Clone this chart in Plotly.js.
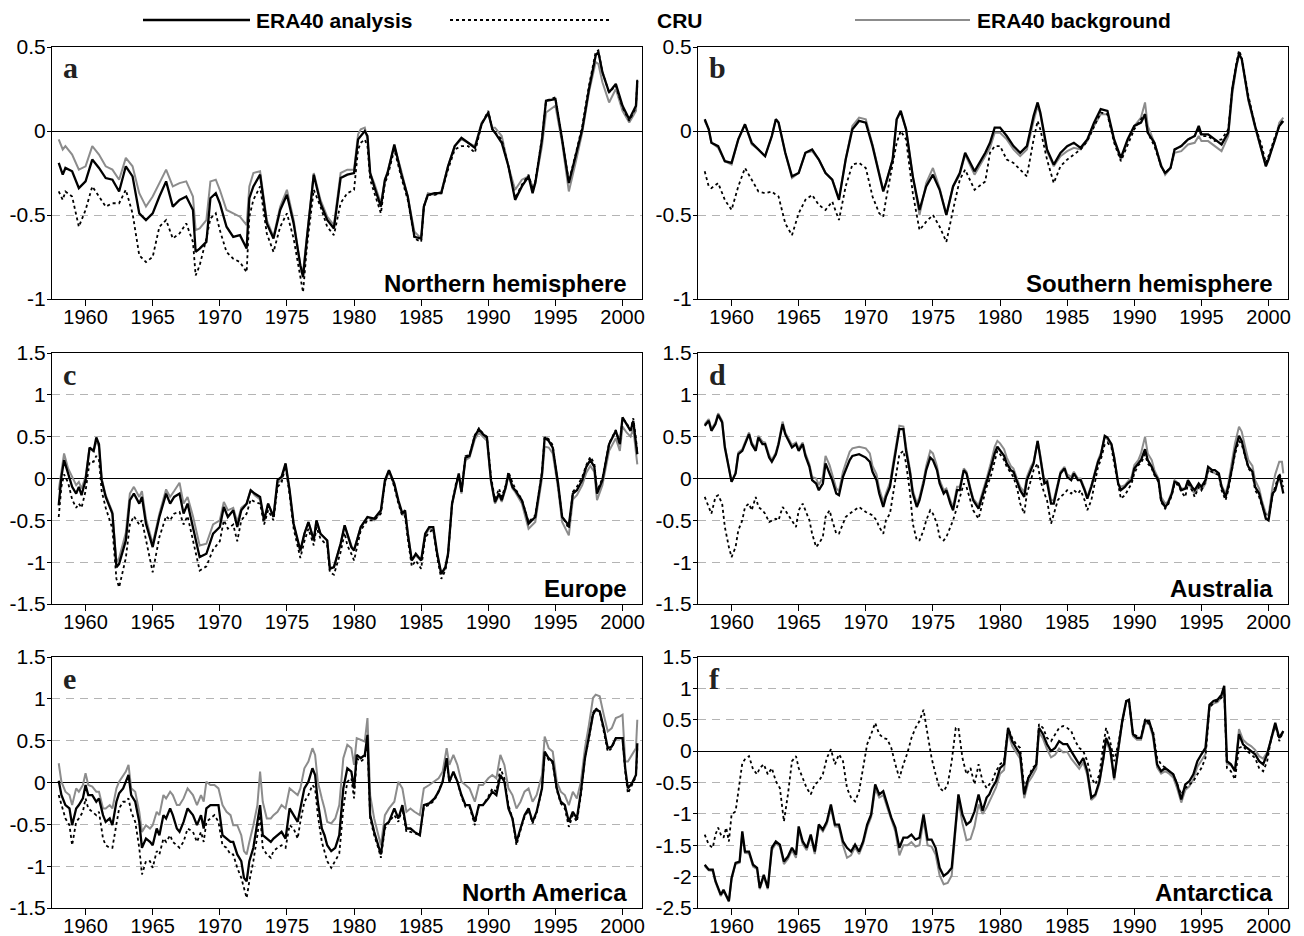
<!DOCTYPE html>
<html><head><meta charset="utf-8">
<script src="https://cdn.plot.ly/plotly-3.0.1.min.js"></script>
<style>html,body{margin:0;padding:0;background:#fff;}#chart{width:1304px;height:936px;}</style>
</head><body><div id="chart"></div>
<script>
// ---------- Panel a: Northern hemisphere ----------
const A_years=[1958.0,1958.3,1958.5,1959.0,1959.5,1960.0,1960.5,1961.0,1961.5,1962.0,
1962.5,1963.0,1963.5,1964.0,1964.5,1965.0,1965.5,1966.0,1966.5,1967.0,
1967.5,1968.0,1968.2,1968.5,1969.0,1969.3,1969.7,1970.0,1970.5,1971.0,
1971.5,1972.0,1972.2,1972.5,1973.0,1973.5,1974.0,1974.5,1975.0,1975.5,
1976.0,1976.2,1976.5,1977.0,1977.5,1978.0,1978.5,1979.0,1979.5,1980.0,
1980.3,1980.5,1980.8,1981.0,1981.2,1981.5,1982.0,1982.3,1982.5,1983.0,
1983.5,1984.0,1984.5,1985.0,1985.2,1985.5,1986.0,1986.5,1987.0,1987.5,
1988.0,1988.5,1989.0,1989.5,1990.0,1990.3,1990.5,1991.0,1991.5,1992.0,
1992.5,1993.0,1993.3,1993.5,1994.0,1994.3,1995.0,1995.5,1996.0,1996.5,
1997.0,1997.5,1998.0,1998.2,1998.5,1999.0,1999.5,2000.0,2000.5,2001.0,
2001.1];
const A_analysis=[-0.19,-0.26,-0.22,-0.24,-0.34,-0.30,-0.17,-0.22,-0.28,-0.29,
-0.36,-0.21,-0.27,-0.49,-0.53,-0.49,-0.39,-0.30,-0.45,-0.41,
-0.39,-0.47,-0.72,-0.70,-0.66,-0.40,-0.37,-0.43,-0.57,-0.63,
-0.62,-0.70,-0.40,-0.33,-0.26,-0.55,-0.64,-0.47,-0.38,-0.55,
-0.80,-0.87,-0.63,-0.26,-0.43,-0.53,-0.58,-0.28,-0.26,-0.25,
-0.05,-0.03,0.00,-0.03,-0.25,-0.33,-0.45,-0.29,-0.25,-0.08,
-0.25,-0.39,-0.63,-0.64,-0.45,-0.38,-0.37,-0.37,-0.21,-0.09,
-0.04,-0.07,-0.10,0.04,0.11,0.01,-0.01,-0.07,-0.21,-0.41,
-0.33,-0.27,-0.37,-0.31,-0.05,0.18,0.19,-0.05,-0.31,-0.15,
0.01,0.25,0.45,0.47,0.35,0.23,0.28,0.15,0.07,0.15,
0.30];
const A_background=[-0.05,-0.11,-0.09,-0.14,-0.23,-0.21,-0.09,-0.14,-0.21,-0.23,
-0.29,-0.16,-0.21,-0.37,-0.45,-0.39,-0.31,-0.23,-0.33,-0.31,
-0.30,-0.39,-0.59,-0.58,-0.53,-0.30,-0.29,-0.35,-0.47,-0.49,
-0.51,-0.56,-0.33,-0.25,-0.24,-0.53,-0.63,-0.45,-0.35,-0.53,
-0.80,-0.84,-0.61,-0.25,-0.41,-0.51,-0.56,-0.25,-0.23,-0.23,
-0.02,0.01,0.02,-0.05,-0.25,-0.31,-0.43,-0.29,-0.24,-0.09,
-0.23,-0.39,-0.60,-0.64,-0.45,-0.37,-0.38,-0.36,-0.21,-0.09,
-0.05,-0.07,-0.09,0.05,0.10,0.02,0.02,-0.03,-0.21,-0.35,
-0.29,-0.27,-0.33,-0.31,-0.09,0.11,0.15,-0.07,-0.36,-0.19,
-0.01,0.23,0.41,0.40,0.29,0.17,0.25,0.12,0.05,0.12,
0.27];
const A_cru=[-0.36,-0.41,-0.36,-0.39,-0.57,-0.47,-0.33,-0.39,-0.45,-0.43,
-0.43,-0.35,-0.49,-0.74,-0.78,-0.75,-0.57,-0.53,-0.64,-0.61,
-0.55,-0.66,-0.86,-0.80,-0.64,-0.52,-0.49,-0.59,-0.72,-0.76,
-0.78,-0.84,-0.51,-0.41,-0.33,-0.61,-0.72,-0.57,-0.49,-0.64,
-0.88,-0.96,-0.68,-0.35,-0.45,-0.57,-0.62,-0.43,-0.37,-0.35,
-0.11,-0.07,-0.05,-0.09,-0.29,-0.37,-0.49,-0.31,-0.27,-0.11,
-0.27,-0.41,-0.64,-0.66,-0.45,-0.38,-0.38,-0.37,-0.23,-0.11,
-0.09,-0.09,-0.13,0.04,0.12,0.01,-0.01,-0.05,-0.21,-0.40,
-0.32,-0.26,-0.35,-0.30,-0.04,0.18,0.20,-0.05,-0.30,-0.14,
0.03,0.27,0.47,0.48,0.35,0.23,0.27,0.14,0.06,0.14,
0.31];

// ---------- Panel b: Southern hemisphere ----------
const B_years=[1958.0,1958.3,1958.5,1959.0,1959.5,1960.0,1960.5,1961.0,1961.5,1962.0,
1962.5,1963.0,1963.3,1963.5,1964.0,1964.5,1965.0,1965.5,1966.0,1966.5,
1967.0,1967.5,1968.0,1968.5,1969.0,1969.5,1970.0,1970.5,1971.0,1971.3,
1971.5,1972.0,1972.3,1972.6,1973.0,1973.5,1974.0,1974.5,1975.0,1975.5,
1976.0,1976.5,1977.0,1977.4,1978.1,1978.9,1979.25,1979.6,1980.0,1980.5,
1981.0,1981.5,1982.0,1982.5,1982.8,1983.0,1983.5,1984.0,1984.5,1985.0,
1985.5,1986.0,1986.5,1987.0,1987.5,1988.0,1988.5,1989.0,1989.5,1990.0,
1990.5,1990.8,1991.0,1991.5,1992.0,1992.3,1992.7,1993.0,1993.5,1994.0,
1994.5,1994.8,1995.0,1995.5,1996.0,1996.5,1997.0,1997.3,1997.6,1997.8,
1998.0,1998.5,1999.0,1999.5,1999.8,2000.0,2000.5,2000.8,2001.1];
const B_analysis=[0.07,0.01,-0.07,-0.09,-0.18,-0.19,-0.05,0.04,-0.07,-0.11,
-0.15,-0.03,0.07,0.05,-0.13,-0.27,-0.25,-0.13,-0.11,-0.17,
-0.25,-0.29,-0.41,-0.17,0.01,0.06,0.05,-0.09,-0.25,-0.36,
-0.31,-0.17,0.07,0.12,0.01,-0.27,-0.47,-0.33,-0.26,-0.35,
-0.50,-0.33,-0.25,-0.13,-0.24,-0.13,-0.07,0.02,0.02,-0.03,
-0.09,-0.13,-0.09,0.09,0.17,0.11,-0.11,-0.20,-0.13,-0.09,
-0.07,-0.10,-0.05,0.05,0.13,0.12,-0.05,-0.16,-0.05,0.03,
0.05,0.10,-0.01,-0.07,-0.21,-0.25,-0.22,-0.11,-0.09,-0.05,
-0.03,0.03,-0.02,-0.02,-0.05,-0.08,-0.01,0.25,0.39,0.46,
0.43,0.19,0.03,-0.11,-0.21,-0.17,-0.05,0.03,0.06];
const B_background=[0.06,0.01,-0.07,-0.10,-0.18,-0.20,-0.05,0.04,-0.08,-0.11,
-0.15,-0.03,0.07,0.05,-0.13,-0.28,-0.25,-0.13,-0.12,-0.17,
-0.25,-0.29,-0.40,-0.17,0.03,0.08,0.07,-0.08,-0.25,-0.35,
-0.31,-0.17,0.07,0.11,0.01,-0.27,-0.50,-0.31,-0.22,-0.34,
-0.50,-0.33,-0.26,-0.14,-0.26,-0.15,-0.10,-0.01,-0.01,-0.05,
-0.11,-0.15,-0.11,0.06,0.15,0.10,-0.12,-0.21,-0.15,-0.12,
-0.10,-0.11,-0.06,0.03,0.10,0.10,-0.06,-0.17,-0.06,0.03,
0.08,0.17,0.03,-0.07,-0.20,-0.26,-0.22,-0.13,-0.12,-0.08,
-0.07,-0.03,-0.06,-0.06,-0.09,-0.12,-0.03,0.22,0.38,0.45,
0.43,0.18,0.02,-0.12,-0.21,-0.16,-0.05,0.05,0.08];
const B_cru=[-0.24,-0.33,-0.34,-0.31,-0.41,-0.47,-0.33,-0.22,-0.29,-0.36,
-0.37,-0.36,-0.38,-0.39,-0.55,-0.62,-0.49,-0.41,-0.38,-0.44,
-0.47,-0.42,-0.53,-0.33,-0.20,-0.19,-0.22,-0.39,-0.49,-0.51,
-0.41,-0.21,-0.07,0.00,-0.05,-0.37,-0.59,-0.54,-0.50,-0.57,
-0.66,-0.47,-0.29,-0.23,-0.35,-0.30,-0.13,-0.09,-0.09,-0.17,
-0.19,-0.23,-0.27,-0.05,0.06,0.01,-0.17,-0.31,-0.21,-0.17,
-0.14,-0.11,-0.06,0.03,0.11,0.10,-0.07,-0.18,-0.09,0.01,
0.07,0.10,-0.01,-0.09,-0.21,-0.25,-0.22,-0.11,-0.09,-0.05,
-0.03,0.01,-0.03,-0.03,-0.06,-0.05,0.01,0.25,0.40,0.48,
0.44,0.21,0.03,-0.09,-0.19,-0.15,-0.03,0.03,0.07];

// ---------- Panel c: Europe ----------
const C_years=[1958.0,1958.2,1958.4,1958.7,1959.0,1959.3,1959.5,1959.7,1960.0,1960.3,
1960.6,1960.8,1961.0,1961.2,1961.5,1962.0,1962.3,1962.5,1963.0,1963.3,
1963.6,1964.0,1964.2,1964.5,1965.0,1965.5,1966.0,1966.3,1966.6,1967.0,
1967.3,1967.6,1968.0,1968.5,1969.0,1969.5,1970.0,1970.3,1970.6,1971.0,
1971.3,1971.6,1972.0,1972.3,1972.6,1973.0,1973.3,1973.6,1974.0,1974.3,
1974.6,1974.9,1975.2,1975.5,1976.0,1976.3,1976.6,1977.0,1977.2,1977.5,
1978.0,1978.2,1978.5,1979.0,1979.3,1979.5,1979.8,1980.0,1980.5,1981.0,
1981.5,1982.0,1982.3,1982.6,1983.0,1983.3,1983.6,1983.8,1984.0,1984.3,
1984.6,1985.0,1985.3,1985.6,1985.9,1986.2,1986.5,1986.8,1987.0,1987.3,
1987.6,1987.8,1988.0,1988.3,1988.6,1989.0,1989.3,1989.6,1989.9,1990.2,
1990.5,1990.8,1991.0,1991.3,1991.5,1991.8,1992.0,1992.5,1992.8,1993.0,
1993.5,1994.0,1994.2,1994.5,1994.8,1995.2,1995.5,1996.0,1996.3,1996.6,
1997.0,1997.3,1997.6,1997.9,1998.1,1998.5,1999.0,1999.5,1999.8,2000.0,
2000.3,2000.6,2000.8,2001.0,2001.1];
const C_analysis=[-0.32,0.02,0.22,0.06,-0.10,-0.18,-0.10,-0.20,-0.02,0.37,
0.33,0.49,0.41,-0.02,-0.22,-0.42,-1.06,-1.02,-0.74,-0.26,
-0.18,-0.30,-0.22,-0.54,-0.82,-0.46,-0.18,-0.30,-0.22,-0.18,
-0.42,-0.30,-0.58,-0.94,-0.90,-0.66,-0.58,-0.34,-0.46,-0.38,
-0.58,-0.38,-0.30,-0.14,-0.18,-0.22,-0.50,-0.30,-0.46,-0.02,
0.02,0.18,-0.14,-0.54,-0.86,-0.66,-0.52,-0.74,-0.50,-0.66,
-0.74,-1.08,-1.06,-0.78,-0.56,-0.66,-0.82,-0.86,-0.58,-0.46,
-0.48,-0.38,-0.02,0.10,-0.06,-0.26,-0.42,-0.38,-0.66,-0.98,
-0.90,-0.98,-0.66,-0.58,-0.58,-0.90,-1.14,-1.06,-0.90,-0.30,
-0.06,0.06,-0.16,0.25,0.27,0.51,0.59,0.53,0.49,-0.02,
-0.28,-0.18,-0.26,-0.10,0.06,-0.10,-0.14,-0.26,-0.42,-0.54,
-0.46,0.06,0.49,0.45,0.37,-0.06,-0.46,-0.56,-0.18,-0.14,
-0.02,0.14,0.22,0.14,-0.18,-0.02,0.41,0.57,0.41,0.73,
0.65,0.57,0.69,0.45,0.29];
const C_background=[-0.14,0.08,0.30,0.12,0.02,-0.08,-0.04,-0.12,0.02,0.37,
0.32,0.45,0.38,0.00,-0.20,-0.40,-1.00,-0.95,-0.65,-0.18,
-0.10,-0.22,-0.15,-0.48,-0.78,-0.42,-0.13,-0.22,-0.15,-0.05,
-0.30,-0.22,-0.45,-0.80,-0.78,-0.55,-0.50,-0.28,-0.38,-0.35,
-0.52,-0.35,-0.30,-0.14,-0.20,-0.25,-0.50,-0.30,-0.45,-0.05,
-0.02,0.17,-0.15,-0.55,-0.88,-0.66,-0.52,-0.72,-0.50,-0.66,
-0.74,-1.06,-1.06,-0.78,-0.56,-0.66,-0.80,-0.85,-0.58,-0.46,
-0.50,-0.40,-0.05,0.08,-0.08,-0.28,-0.44,-0.40,-0.66,-0.98,
-0.92,-0.98,-0.68,-0.60,-0.62,-0.92,-1.14,-1.08,-0.92,-0.32,
-0.08,0.04,-0.18,0.22,0.25,0.47,0.55,0.50,0.45,-0.04,
-0.30,-0.20,-0.28,-0.12,0.04,-0.12,-0.16,-0.30,-0.48,-0.60,
-0.52,0.00,0.38,0.37,0.30,-0.12,-0.52,-0.68,-0.25,-0.20,
-0.08,0.07,0.15,0.08,-0.26,-0.08,0.33,0.48,0.33,0.62,
0.55,0.50,0.60,0.35,0.17];
const C_cru=[-0.46,-0.10,0.05,-0.05,-0.25,-0.35,-0.30,-0.35,-0.15,0.20,
0.20,0.27,0.22,-0.15,-0.35,-0.60,-1.20,-1.30,-0.95,-0.55,
-0.45,-0.55,-0.50,-0.75,-1.12,-0.70,-0.45,-0.50,-0.42,-0.40,
-0.55,-0.45,-0.75,-1.10,-1.05,-0.85,-0.75,-0.50,-0.60,-0.55,
-0.75,-0.50,-0.42,-0.25,-0.28,-0.30,-0.55,-0.38,-0.50,-0.10,
-0.05,0.15,-0.20,-0.60,-0.95,-0.75,-0.60,-0.80,-0.58,-0.72,
-0.80,-1.12,-1.15,-0.88,-0.65,-0.80,-0.90,-0.98,-0.62,-0.50,
-0.50,-0.42,-0.05,0.10,-0.10,-0.30,-0.45,-0.45,-0.72,-1.05,
-0.98,-1.08,-0.70,-0.65,-0.60,-0.95,-1.20,-1.10,-0.92,-0.30,
-0.05,0.05,-0.16,0.27,0.28,0.52,0.60,0.54,0.50,0.02,
-0.25,-0.12,-0.22,-0.08,0.08,-0.05,-0.12,-0.25,-0.40,-0.52,
-0.44,0.08,0.50,0.47,0.40,-0.05,-0.45,-0.60,-0.16,-0.10,
0.02,0.16,0.26,0.18,-0.15,0.00,0.42,0.58,0.42,0.72,
0.66,0.58,0.72,0.48,0.30];

// ---------- Panel d: Australia ----------
const D_years=[1958.0,1958.3,1958.5,1958.8,1959.0,1959.3,1959.5,1959.8,1960.0,1960.3,
1960.5,1960.8,1961.0,1961.3,1961.5,1961.8,1962.0,1962.3,1962.5,1962.8,
1963.0,1963.3,1963.5,1963.8,1964.0,1964.3,1964.5,1964.8,1965.0,1965.3,
1965.5,1965.8,1966.0,1966.3,1966.5,1966.8,1967.0,1967.3,1967.5,1967.8,
1968.0,1968.3,1968.5,1968.8,1969.0,1969.5,1970.0,1970.3,1970.5,1970.8,
1971.0,1971.3,1971.5,1971.8,1972.0,1972.3,1972.5,1972.8,1973.0,1973.3,
1973.5,1973.8,1974.0,1974.3,1974.5,1974.8,1975.0,1975.3,1975.5,1975.8,
1976.0,1976.3,1976.5,1976.8,1977.0,1977.3,1977.5,1977.8,1978.0,1978.4,
1978.8,1979.0,1979.3,1979.6,1979.8,1980.0,1980.3,1980.5,1980.8,1981.0,
1981.3,1981.5,1981.8,1982.0,1982.3,1982.5,1982.8,1983.0,1983.3,1983.5,
1983.8,1984.0,1984.3,1984.5,1984.8,1985.0,1985.3,1985.5,1985.8,1986.0,
1986.3,1986.5,1986.8,1987.0,1987.3,1987.5,1987.8,1988.0,1988.3,1988.5,
1988.8,1989.0,1989.3,1989.5,1989.8,1990.0,1990.3,1990.5,1990.8,1991.0,
1991.3,1991.5,1991.8,1992.0,1992.3,1992.5,1992.8,1993.0,1993.3,1993.5,
1993.8,1994.0,1994.3,1994.5,1994.8,1995.0,1995.3,1995.5,1995.8,1996.0,
1996.3,1996.5,1996.8,1997.0,1997.3,1997.5,1997.8,1998.0,1998.3,1998.5,
1998.8,1999.0,1999.3,1999.5,1999.8,2000.0,2000.3,2000.5,2000.8,2001.0,
2001.1];
const D_analysis=[0.63,0.69,0.57,0.65,0.76,0.67,0.37,0.10,-0.04,0.06,
0.29,0.33,0.41,0.53,0.41,0.33,0.49,0.41,0.41,0.25,
0.20,0.29,0.41,0.65,0.53,0.43,0.37,0.41,0.33,0.41,
0.27,0.14,-0.02,-0.06,-0.14,-0.06,0.18,0.06,-0.02,-0.18,
-0.20,0.02,0.10,0.22,0.27,0.29,0.25,0.20,0.08,-0.02,
-0.18,-0.34,-0.22,-0.10,0.10,0.37,0.59,0.59,0.33,0.06,
-0.18,-0.34,-0.26,-0.06,0.10,0.25,0.22,0.10,-0.06,-0.18,
-0.14,-0.30,-0.38,-0.14,-0.14,0.10,0.06,-0.14,-0.26,-0.36,
-0.16,-0.04,0.12,0.30,0.38,0.33,0.27,0.18,0.10,0.08,
-0.06,-0.14,-0.22,-0.02,0.10,0.18,0.45,0.25,-0.06,-0.04,
-0.30,-0.30,-0.10,0.06,0.12,0.02,-0.02,0.06,-0.02,-0.02,
-0.14,-0.24,-0.10,0.02,0.20,0.27,0.51,0.49,0.41,0.25,
-0.06,-0.14,-0.10,-0.06,-0.02,0.12,0.18,0.22,0.35,0.22,
0.14,0.06,-0.02,-0.26,-0.34,-0.30,-0.18,-0.04,-0.06,-0.14,
-0.12,-0.02,-0.10,-0.14,-0.06,-0.10,-0.02,0.14,0.10,0.10,
0.06,-0.10,-0.22,-0.10,0.14,0.33,0.51,0.45,0.25,0.14,
0.08,-0.10,-0.18,-0.30,-0.48,-0.50,-0.18,-0.14,0.04,-0.10,
-0.18];
const D_background=[0.65,0.71,0.59,0.67,0.78,0.69,0.39,0.10,-0.04,0.07,
0.31,0.35,0.44,0.55,0.43,0.36,0.51,0.44,0.43,0.28,
0.22,0.31,0.43,0.68,0.55,0.46,0.40,0.43,0.36,0.43,
0.30,0.17,0.02,0.00,-0.08,0.02,0.27,0.16,0.05,-0.12,
-0.15,0.08,0.18,0.32,0.36,0.38,0.36,0.30,0.15,0.05,
-0.12,-0.28,-0.18,-0.05,0.15,0.42,0.63,0.62,0.38,0.10,
-0.14,-0.30,-0.22,-0.02,0.15,0.33,0.30,0.15,-0.02,-0.14,
-0.12,-0.26,-0.34,-0.10,-0.10,0.12,0.08,-0.12,-0.24,-0.32,
-0.12,0.00,0.18,0.38,0.45,0.42,0.35,0.25,0.15,0.12,
-0.02,-0.10,-0.16,0.02,0.14,0.20,0.45,0.28,-0.04,0.00,
-0.26,-0.26,-0.06,0.08,0.14,0.05,0.02,0.08,0.00,0.00,
-0.12,-0.22,-0.08,0.04,0.22,0.30,0.50,0.47,0.40,0.26,
-0.06,-0.10,-0.08,-0.04,0.02,0.16,0.22,0.30,0.50,0.30,
0.22,0.10,0.00,-0.22,-0.30,-0.28,-0.16,-0.02,-0.06,-0.12,
-0.12,-0.04,-0.14,-0.18,-0.10,-0.14,-0.06,0.10,0.08,0.06,
0.04,-0.08,-0.18,-0.06,0.20,0.42,0.62,0.56,0.35,0.22,
0.15,-0.02,-0.12,-0.26,-0.42,-0.44,-0.10,0.05,0.20,0.20,
0.06];
const D_cru=[-0.22,-0.34,-0.42,-0.22,-0.20,-0.30,-0.58,-0.82,-0.94,-0.82,
-0.62,-0.50,-0.34,-0.30,-0.38,-0.22,-0.34,-0.38,-0.42,-0.52,
-0.50,-0.48,-0.50,-0.34,-0.38,-0.46,-0.50,-0.58,-0.38,-0.30,
-0.38,-0.50,-0.66,-0.82,-0.78,-0.70,-0.46,-0.38,-0.50,-0.66,
-0.66,-0.54,-0.46,-0.42,-0.40,-0.34,-0.40,-0.42,-0.44,-0.50,
-0.58,-0.66,-0.50,-0.42,-0.22,0.06,0.29,0.33,0.18,-0.18,
-0.54,-0.74,-0.74,-0.62,-0.50,-0.38,-0.42,-0.54,-0.70,-0.74,
-0.70,-0.58,-0.50,-0.34,-0.22,-0.06,-0.10,-0.26,-0.38,-0.48,
-0.22,-0.10,0.02,0.22,0.33,0.29,0.22,0.14,0.06,0.02,
-0.14,-0.30,-0.42,-0.18,-0.02,0.10,0.18,-0.02,-0.18,-0.26,
-0.54,-0.42,-0.26,-0.22,-0.18,-0.14,-0.18,-0.14,-0.18,-0.14,
-0.26,-0.38,-0.26,-0.10,0.14,0.22,0.41,0.43,0.37,0.18,
-0.10,-0.24,-0.20,-0.14,-0.06,0.06,0.16,0.18,0.29,0.18,
0.12,0.04,-0.04,-0.28,-0.36,-0.32,-0.20,-0.06,-0.08,-0.16,
-0.22,-0.06,-0.14,-0.22,-0.10,-0.14,-0.04,0.10,0.08,0.06,
0.04,-0.14,-0.26,-0.14,0.10,0.29,0.45,0.41,0.24,0.12,
0.06,-0.14,-0.22,-0.32,-0.44,-0.48,-0.20,-0.10,0.06,-0.02,
-0.10];

// ---------- Panel e: North America ----------
const E_years=[1958.0,1958.2,1958.5,1958.8,1959.0,1959.3,1959.5,1959.8,1960.0,1960.2,
1960.5,1960.8,1961.0,1961.3,1961.5,1961.8,1962.0,1962.3,1962.5,1962.8,
1963.0,1963.2,1963.4,1963.7,1964.0,1964.2,1964.5,1964.8,1965.0,1965.3,
1965.5,1965.8,1966.0,1966.3,1966.5,1966.8,1967.0,1967.3,1967.6,1968.0,
1968.3,1968.6,1968.8,1969.0,1969.3,1969.6,1969.9,1970.2,1970.5,1970.8,
1971.0,1971.3,1971.6,1971.8,1972.0,1972.2,1972.5,1972.8,1973.0,1973.2,
1973.5,1973.8,1974.0,1974.3,1974.6,1974.9,1975.2,1975.5,1975.8,1976.0,
1976.3,1976.6,1976.9,1977.1,1977.3,1977.6,1977.8,1978.0,1978.3,1978.6,
1978.9,1979.2,1979.5,1979.8,1980.0,1980.2,1980.5,1980.8,1981.0,1981.2,
1981.5,1981.8,1982.0,1982.3,1982.6,1983.0,1983.3,1983.6,1983.9,1984.2,
1984.5,1984.9,1985.2,1985.6,1986.0,1986.3,1986.6,1986.9,1987.1,1987.4,
1987.7,1988.0,1988.3,1988.6,1989.0,1989.3,1989.6,1990.0,1990.3,1990.6,
1990.9,1991.2,1991.5,1991.8,1992.1,1992.4,1992.7,1993.0,1993.3,1993.6,
1994.0,1994.2,1994.5,1994.8,1995.1,1995.4,1995.7,1996.0,1996.3,1996.6,
1996.9,1997.2,1997.5,1997.8,1998.0,1998.3,1998.6,1998.9,1999.2,1999.5,
1999.8,2000.0,2000.2,2000.4,2000.7,2001.0,2001.1];
const E_analysis=[0.02,-0.15,-0.27,-0.31,-0.51,-0.31,-0.27,-0.19,-0.03,-0.15,
-0.15,-0.23,-0.19,-0.39,-0.47,-0.43,-0.51,-0.23,-0.13,-0.07,
0.01,0.09,-0.15,-0.23,-0.47,-0.78,-0.67,-0.71,-0.75,-0.55,
-0.63,-0.39,-0.43,-0.31,-0.39,-0.55,-0.59,-0.47,-0.31,-0.39,
-0.51,-0.39,-0.55,-0.31,-0.27,-0.27,-0.27,-0.63,-0.67,-0.71,
-0.71,-0.86,-0.94,-1.14,-1.18,-0.94,-0.78,-0.47,-0.27,-0.63,
-0.67,-0.71,-0.67,-0.63,-0.59,-0.67,-0.31,-0.39,-0.47,-0.31,
-0.07,0.01,0.17,0.09,-0.23,-0.55,-0.63,-0.75,-0.82,-0.78,
-0.63,-0.07,0.17,0.13,-0.07,0.33,0.29,0.33,0.57,-0.39,
-0.59,-0.75,-0.86,-0.51,-0.47,-0.31,-0.43,-0.27,-0.55,-0.55,
-0.59,-0.63,-0.27,-0.25,-0.19,-0.11,0.01,0.29,0.01,0.13,
0.01,-0.15,-0.27,-0.27,-0.47,-0.27,-0.27,-0.19,-0.11,-0.15,
0.09,0.01,-0.31,-0.43,-0.71,-0.55,-0.39,-0.31,-0.47,-0.35,
-0.07,0.37,0.29,0.25,-0.07,-0.23,-0.27,-0.47,-0.35,-0.43,
-0.11,0.29,0.53,0.81,0.87,0.85,0.65,0.41,0.43,0.53,
0.53,0.53,0.17,-0.07,-0.01,0.09,0.47];
const E_background=[0.23,0.01,-0.11,-0.15,-0.27,-0.07,-0.11,-0.03,0.11,-0.03,
-0.05,-0.11,-0.11,-0.31,-0.31,-0.27,-0.31,-0.07,0.01,0.09,
0.13,0.21,-0.07,-0.11,-0.35,-0.59,-0.51,-0.55,-0.51,-0.35,
-0.39,-0.15,-0.19,-0.11,-0.15,-0.27,-0.27,-0.19,-0.07,-0.15,
-0.27,-0.15,-0.23,0.01,-0.03,-0.03,-0.07,-0.27,-0.35,-0.39,
-0.51,-0.51,-0.63,-0.82,-0.86,-0.71,-0.51,-0.27,0.13,-0.23,
-0.43,-0.43,-0.39,-0.35,-0.27,-0.31,-0.07,-0.11,-0.15,-0.07,
0.17,0.25,0.41,0.33,0.01,-0.19,-0.31,-0.47,-0.49,-0.43,
-0.27,0.29,0.45,0.41,0.21,0.53,0.51,0.49,0.77,-0.15,
-0.43,-0.63,-0.75,-0.39,-0.31,-0.23,0.01,-0.07,-0.35,-0.31,
-0.35,-0.39,-0.07,-0.03,0.01,0.05,0.13,0.41,0.21,0.33,
0.21,0.01,-0.03,-0.07,-0.23,-0.03,-0.03,0.05,0.09,0.05,
0.33,0.21,-0.07,-0.15,-0.31,-0.23,-0.11,-0.07,-0.23,-0.15,
0.09,0.55,0.41,0.37,0.01,-0.11,-0.15,-0.27,-0.11,-0.19,
0.01,0.41,0.69,1.01,1.05,1.03,0.81,0.61,0.65,0.77,
0.79,0.81,0.25,0.25,0.33,0.41,0.75];
const E_cru=[-0.15,-0.27,-0.43,-0.51,-0.75,-0.47,-0.43,-0.35,-0.19,-0.31,
-0.35,-0.39,-0.35,-0.67,-0.75,-0.78,-0.78,-0.47,-0.31,-0.23,
-0.23,-0.19,-0.35,-0.47,-0.78,-1.10,-0.94,-0.94,-1.02,-0.82,
-0.86,-0.67,-0.71,-0.63,-0.71,-0.75,-0.78,-0.71,-0.55,-0.59,
-0.71,-0.59,-0.71,-0.47,-0.43,-0.39,-0.47,-0.75,-0.78,-0.86,
-0.86,-1.02,-1.14,-1.26,-1.38,-1.18,-0.94,-0.63,-0.39,-0.78,
-0.86,-0.90,-0.82,-0.78,-0.75,-0.78,-0.51,-0.55,-0.67,-0.47,
-0.23,-0.15,-0.03,-0.07,-0.39,-0.71,-0.82,-0.94,-1.02,-0.94,
-0.85,-0.31,0.01,0.05,-0.19,0.29,0.25,0.29,0.49,-0.43,
-0.63,-0.78,-0.90,-0.55,-0.47,-0.39,-0.47,-0.31,-0.59,-0.59,
-0.61,-0.63,-0.29,-0.27,-0.21,-0.11,0.01,0.25,0.01,0.11,
0.01,-0.17,-0.29,-0.29,-0.51,-0.27,-0.27,-0.17,-0.07,-0.11,
0.17,0.05,-0.27,-0.43,-0.75,-0.57,-0.41,-0.33,-0.49,-0.37,
-0.07,0.35,0.27,0.23,-0.09,-0.25,-0.31,-0.53,-0.39,-0.47,
-0.15,0.29,0.53,0.83,0.89,0.85,0.63,0.37,0.41,0.53,
0.53,0.53,0.13,-0.13,-0.03,0.07,0.41];

// ---------- Panel f: Antarctica ----------
const F_years=[1958.0,1958.3,1958.6,1958.8,1959.0,1959.2,1959.4,1959.6,1959.8,1960.0,
1960.3,1960.6,1960.8,1961.0,1961.3,1961.6,1961.9,1962.1,1962.4,1962.7,
1963.0,1963.3,1963.6,1963.9,1964.2,1964.5,1964.8,1965.0,1965.3,1965.6,
1965.9,1966.2,1966.5,1966.8,1967.1,1967.4,1967.7,1968.0,1968.3,1968.6,
1968.9,1969.2,1969.5,1969.8,1970.1,1970.4,1970.7,1971.0,1971.3,1971.6,
1971.9,1972.2,1972.5,1972.8,1973.1,1973.4,1973.7,1974.0,1974.3,1974.6,
1974.9,1975.2,1975.5,1975.8,1976.1,1976.4,1976.7,1976.9,1977.2,1977.5,
1977.8,1978.1,1978.4,1978.7,1979.0,1979.2,1979.4,1979.7,1980.0,1980.3,
1980.6,1980.9,1981.2,1981.5,1981.8,1982.1,1982.4,1982.7,1982.9,1983.2,
1983.5,1983.8,1984.1,1984.4,1984.7,1985.0,1985.3,1985.6,1985.9,1986.2,
1986.5,1986.8,1987.1,1987.4,1987.7,1987.9,1988.2,1988.5,1988.8,1989.1,
1989.4,1989.6,1989.9,1990.2,1990.5,1990.8,1991.1,1991.4,1991.7,1992.0,
1992.3,1992.6,1992.9,1993.2,1993.5,1993.8,1994.1,1994.4,1994.7,1995.0,
1995.3,1995.6,1995.9,1996.2,1996.5,1996.7,1996.9,1997.2,1997.5,1997.8,
1998.1,1998.4,1998.7,1999.0,1999.3,1999.6,1999.9,2000.2,2000.5,2000.8,
2001.1];
const F_analysis=[-1.81,-1.89,-1.89,-2.07,-2.18,-2.29,-2.21,-2.31,-2.39,-2.02,
-1.78,-1.76,-1.28,-1.60,-1.60,-1.81,-1.86,-2.18,-1.97,-2.18,
-1.54,-1.44,-1.49,-1.76,-1.68,-1.54,-1.65,-1.20,-1.44,-1.54,
-1.33,-1.60,-1.17,-1.25,-1.12,-0.85,-1.17,-1.17,-1.44,-1.54,
-1.60,-1.49,-1.60,-1.44,-1.17,-1.01,-0.53,-0.69,-0.64,-0.85,
-1.06,-1.22,-1.54,-1.38,-1.38,-1.33,-1.41,-1.38,-1.01,-1.41,
-1.41,-1.54,-1.86,-1.99,-1.94,-1.86,-1.12,-0.69,-1.01,-1.17,
-1.12,-0.96,-0.69,-0.95,-0.74,-0.69,-0.59,-0.48,-0.27,-0.21,
0.37,0.16,0.05,-0.05,-0.69,-0.43,-0.32,-0.21,0.37,0.27,
0.11,0.00,0.05,0.16,0.11,0.11,0.00,-0.11,-0.21,-0.11,
-0.32,-0.74,-0.69,-0.48,-0.11,0.21,0.05,-0.43,0.05,0.48,
0.80,0.82,0.27,0.21,0.21,0.48,0.48,0.27,-0.21,-0.32,
-0.27,-0.32,-0.37,-0.53,-0.77,-0.53,-0.48,-0.37,-0.16,-0.05,
0.05,0.74,0.80,0.82,0.90,1.04,-0.16,-0.21,-0.32,0.27,
0.11,0.05,0.00,-0.05,-0.16,-0.21,-0.05,0.21,0.45,0.21,
0.32];
const F_background=[-1.83,-1.90,-1.91,-2.09,-2.20,-2.31,-2.23,-2.33,-2.40,-2.04,
-1.80,-1.78,-1.32,-1.62,-1.63,-1.84,-1.88,-2.20,-2.00,-2.20,
-1.58,-1.47,-1.52,-1.80,-1.72,-1.58,-1.70,-1.25,-1.48,-1.58,
-1.36,-1.64,-1.20,-1.28,-1.16,-0.90,-1.20,-1.21,-1.50,-1.70,
-1.66,-1.53,-1.64,-1.48,-1.22,-1.05,-0.60,-0.74,-0.70,-0.90,
-1.10,-1.28,-1.66,-1.50,-1.50,-1.45,-1.52,-1.50,-1.10,-1.50,
-1.52,-1.65,-1.98,-2.12,-2.10,-1.98,-1.22,-0.78,-1.15,-1.42,
-1.40,-1.20,-0.85,-1.00,-0.90,-0.80,-0.70,-0.58,-0.36,-0.30,
0.30,0.08,-0.02,-0.12,-0.75,-0.50,-0.40,-0.28,0.30,0.20,
0.03,-0.10,-0.06,0.04,-0.02,-0.01,-0.12,-0.20,-0.28,-0.18,
-0.38,-0.78,-0.72,-0.52,-0.15,0.16,0.00,-0.46,0.00,0.45,
0.78,0.80,0.24,0.18,0.18,0.44,0.44,0.22,-0.26,-0.36,
-0.32,-0.36,-0.42,-0.60,-0.82,-0.62,-0.56,-0.45,-0.25,-0.14,
-0.05,0.70,0.76,0.78,0.86,0.98,-0.20,-0.22,-0.30,0.35,
0.18,0.12,0.08,0.02,-0.08,-0.12,-0.02,0.18,0.40,0.22,
0.30];
const F_cru=[-1.33,-1.49,-1.54,-1.33,-1.22,-1.33,-1.38,-1.22,-1.44,-1.01,
-0.96,-0.48,-0.19,-0.13,-0.08,-0.29,-0.37,-0.27,-0.21,-0.37,
-0.27,-0.48,-0.59,-1.12,-0.69,-0.16,-0.08,-0.27,-0.43,-0.59,
-0.69,-0.53,-0.48,-0.37,-0.11,0.03,-0.21,-0.05,-0.16,-0.59,
-0.74,-0.80,-0.64,-0.27,0.11,0.27,0.45,0.27,0.21,0.19,
0.05,-0.21,-0.43,-0.21,-0.03,0.21,0.37,0.48,0.66,0.27,
-0.11,-0.37,-0.59,-0.64,-0.53,-0.16,0.37,0.37,-0.11,-0.37,
-0.27,-0.53,-0.21,-0.48,-0.59,-0.53,-0.48,-0.32,-0.21,-0.16,
0.37,0.21,0.11,0.05,-0.59,-0.43,-0.27,-0.21,0.43,0.37,
0.21,0.16,0.27,0.37,0.40,0.37,0.32,0.16,0.05,0.00,
-0.16,-0.43,-0.53,-0.37,0.11,0.37,0.16,-0.16,0.11,0.48,
0.80,0.82,0.27,0.24,0.21,0.51,0.43,0.32,-0.11,-0.21,
-0.27,-0.32,-0.37,-0.53,-0.69,-0.59,-0.53,-0.48,-0.37,-0.27,
-0.11,0.69,0.77,0.80,0.85,0.96,-0.27,-0.32,-0.45,0.05,
0.08,0.00,-0.05,-0.11,-0.27,-0.32,-0.16,0.21,0.43,0.16,
0.32];

// ---------- Axis ticks and labels ----------
const xTickYears=[1960,1965,1970,1975,1980,1985,1990,1995,2000];
const yTicksHemi=[-1,-0.5,0,0.5];
const yTicksRegion=[-1.5,-1,-0.5,0,0.5,1,1.5];
const yTicksAntarctic=[-2.5,-2,-1.5,-1,-0.5,0,0.5,1,1.5];
const seriesNames=['ERA40 analysis','CRU','ERA40 background'];
const panelLetters=['a','b','c','d','e','f'];
const regionNames=['Northern hemisphere','Southern hemisphere','Europe','Australia','North America','Antarctica'];

// ---------- Layout geometry (pixels) ----------
const W=1304,H=936;
const px=x=>x/W, py=y=>1-y/H;
const FONT='"Liberation Sans", Arial, Helvetica, sans-serif';
const panels=[
 {years:A_years,ana:A_analysis,bg:A_background,cru:A_cru,box:[52,642,47,299],yr:[-1,0.5],yt:yTicksHemi},
 {years:B_years,ana:B_analysis,bg:B_background,cru:B_cru,box:[698,1288,47,299],yr:[-1,0.5],yt:yTicksHemi},
 {years:C_years,ana:C_analysis,bg:C_background,cru:C_cru,box:[52,642,353,604],yr:[-1.5,1.5],yt:yTicksRegion},
 {years:D_years,ana:D_analysis,bg:D_background,cru:D_cru,box:[698,1288,353,604],yr:[-1.5,1.5],yt:yTicksRegion},
 {years:E_years,ana:E_analysis,bg:E_background,cru:E_cru,box:[52,642,657,908],yr:[-1.5,1.5],yt:yTicksRegion},
 {years:F_years,ana:F_analysis,bg:F_background,cru:F_cru,box:[698,1288,657,908],yr:[-2.5,1.5],yt:yTicksAntarctic}
];

const traces=[];
const layout={width:W,height:H,margin:{l:0,r:0,t:0,b:0},paper_bgcolor:'#fff',plot_bgcolor:'#fff',
  showlegend:false,font:{family:FONT,size:20,color:'#000'},shapes:[],annotations:[]};

panels.forEach((p,i)=>{
  const n=i===0?'':String(i+1);
  const xa='x'+n, ya='y'+n;
  traces.push({type:'scatter',mode:'lines',x:p.years,y:p.bg,name:seriesNames[2],xaxis:xa,yaxis:ya,
    line:{color:'#8c8c8c',width:2},hoverinfo:'skip'});
  traces.push({type:'scatter',mode:'lines',x:p.years,y:p.cru,name:seriesNames[1],xaxis:xa,yaxis:ya,
    line:{color:'#000',width:1.8,dash:'dot'},hoverinfo:'skip'});
  traces.push({type:'scatter',mode:'lines',x:p.years,y:p.ana,name:seriesNames[0],xaxis:xa,yaxis:ya,
    line:{color:'#000',width:2.3},hoverinfo:'skip'});
  const [l,r,t,b]=p.box;
  layout['xaxis'+n]={domain:[px(l),px(r)],anchor:ya,range:[1957.5,2001.45],tickvals:xTickYears,
    ticktext:xTickYears.map(String),ticks:'outside',ticklen:6,tickcolor:'#000',tickwidth:1,
    ticklabelstandoff:-6,
    showline:true,mirror:true,linecolor:'#000',linewidth:1,showgrid:false,zeroline:false,
    tickfont:{family:FONT,size:20,color:'#000'},fixedrange:true};
  layout['yaxis'+n]={domain:[py(b),py(t)],anchor:xa,range:p.yr,tickvals:p.yt,ticktext:p.yt.map(String),
    ticks:'outside',ticklen:4,tickcolor:'#000',tickwidth:1,ticklabelstandoff:-3,
    showline:true,mirror:true,linecolor:'#000',linewidth:1,
    showgrid:true,gridcolor:'#b4b4b4',gridwidth:1,griddash:'8px,6px',
    zeroline:true,zerolinecolor:'#000',zerolinewidth:1,
    tickfont:{family:FONT,size:21,color:'#000'},fixedrange:true};
  layout.annotations.push({xref:'paper',yref:'paper',x:px(l+9),y:py(t+21),xanchor:'left',yanchor:'middle',
    text:'<b>'+panelLetters[i]+'</b>',showarrow:false,font:{family:'"Liberation Serif", "Times New Roman", serif',size:30,color:'#222'}});
  layout.annotations.push({xref:'paper',yref:'paper',x:px(r-13),y:py(b-16),xanchor:'right',yanchor:'middle',
    text:'<b>'+regionNames[i]+'</b>',showarrow:false,font:{family:FONT,size:24,color:'#000'}});
});

// legend drawn at top
const legY=py(20);
layout.shapes.push({type:'line',xref:'paper',yref:'paper',x0:px(143),x1:px(250),y0:legY,y1:legY,line:{color:'#000',width:2.3}});
layout.shapes.push({type:'line',xref:'paper',yref:'paper',x0:px(450),x1:px(610),y0:legY,y1:legY,line:{color:'#000',width:1.8,dash:'dot'}});
layout.shapes.push({type:'line',xref:'paper',yref:'paper',x0:px(855),x1:px(970),y0:legY,y1:legY,line:{color:'#8c8c8c',width:2}});
[[seriesNames[0],254],[seriesNames[1],655],[seriesNames[2],975]].forEach(([t,x])=>{
  layout.annotations.push({xref:'paper',yref:'paper',x:px(x),y:legY,xanchor:'left',yanchor:'middle',
    text:'<b>'+t+'</b>',showarrow:false,font:{family:FONT,size:21,color:'#000'}});
});

Plotly.newPlot('chart',traces,layout,{displayModeBar:false,staticPlot:true});
</script>
</body></html>
